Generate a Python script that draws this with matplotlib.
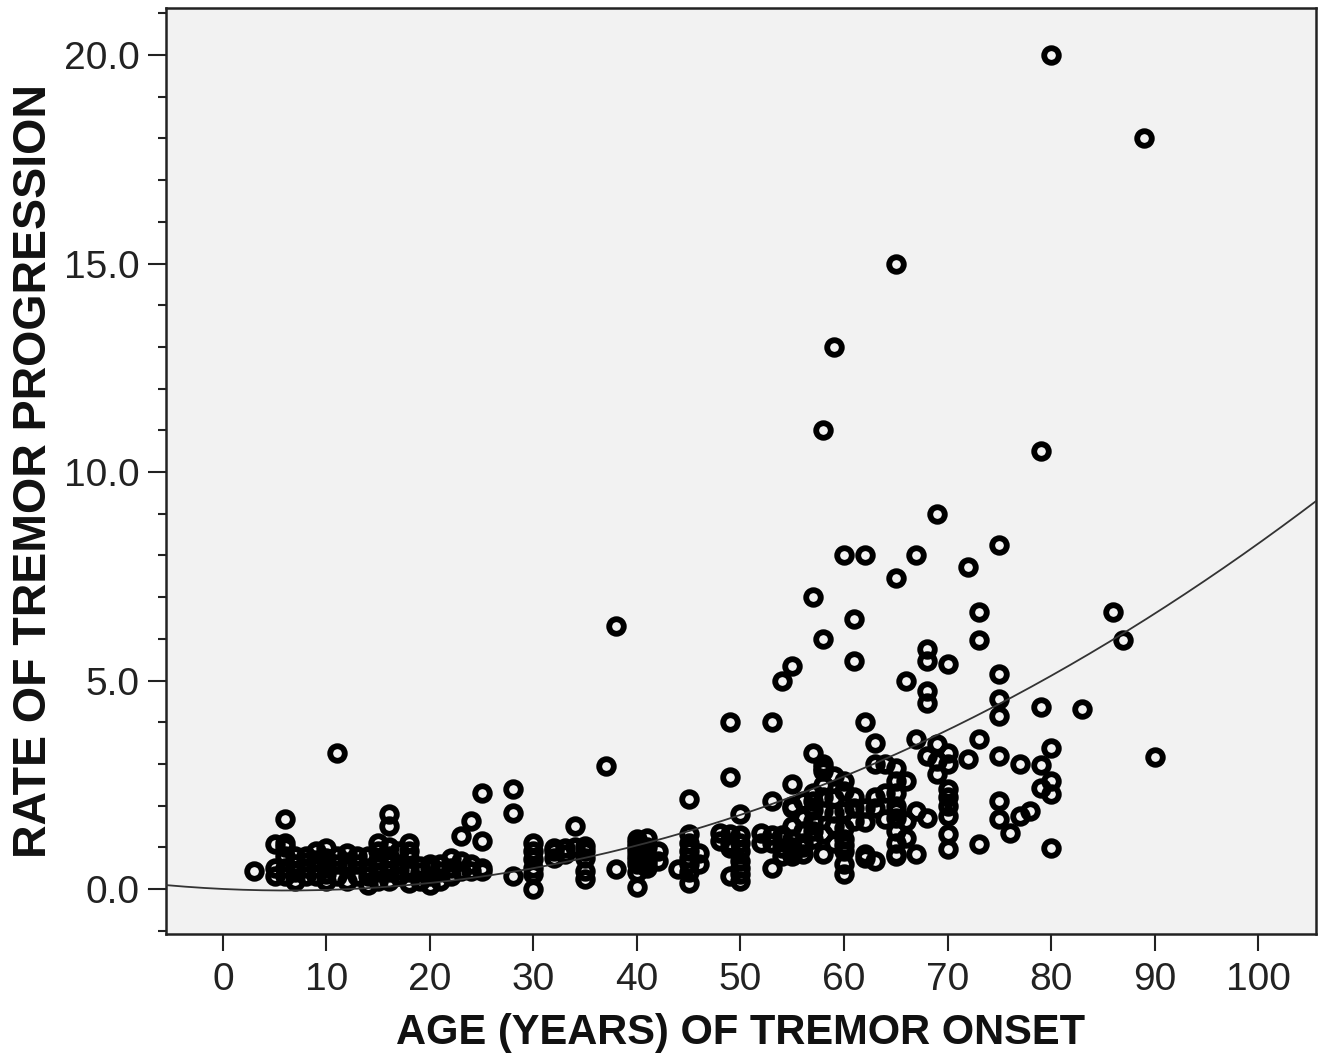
import matplotlib
matplotlib.use("Agg")
import matplotlib.pyplot as plt
import numpy as np
from matplotlib.ticker import MultipleLocator

# ---- data ----
age_groups = [3, 5, 6, 7, 8, 9, 10, 11, 12, 13, 14, 15, 16, 17, 18, 19, 20, 21, 22, 23,
              24, 25, 28, 30, 32, 33, 34, 35, 37, 38, 40, 41, 42, 44, 45, 46, 48, 49, 50,
              52, 53, 54, 55, 56, 57, 58, 59, 60, 61, 62, 63, 64, 65, 66, 67, 68, 69, 70,
              72, 73, 75, 76, 77, 78, 79, 80, 83, 86, 87, 89, 90]
rate_groups = [
    [0.43],
    [0.3, 0.5, 1.08],
    [1.68, 1.1, 0.5, 0.3, 0.8, 1.0],
    [0.4, 0.2, 0.6, 0.8],
    [0.5, 0.3, 0.8, 0.65],
    [0.7, 0.3, 0.9, 0.5],
    [0.98, 0.5, 0.2, 0.35, 0.75, 0.6],
    [3.27, 0.6, 0.3, 0.8],
    [0.86, 0.5, 0.2, 0.65],
    [0.6, 0.3, 0.8],
    [0.5, 0.1, 0.8, 0.3],
    [1.1, 0.7, 0.4, 0.2, 0.9, 0.55],
    [1.8, 1.5, 0.8, 0.4, 0.2, 0.6, 1.0],
    [0.6, 0.3, 0.9, 0.45],
    [1.1, 0.74, 0.4, 0.15, 0.5, 0.9],
    [0.4, 0.2, 0.55],
    [0.5, 0.1, 0.3, 0.6],
    [0.43, 0.2, 0.6],
    [0.74, 0.5, 0.3],
    [1.27, 0.67, 0.43],
    [1.63, 0.43, 0.6],
    [2.3, 1.15, 0.43, 0.5],
    [2.4, 1.82, 0.31],
    [1.1, 0.72, 0.36, 0.0, 0.5, 0.9],
    [0.99, 0.74, 0.9],
    [0.99, 0.85],
    [1.51, 1.0],
    [1.03, 0.74, 0.43, 0.24, 0.9],
    [2.95],
    [6.3, 0.48],
    [1.2, 1.0, 0.8, 0.6, 0.4, 0.05, 1.1, 0.9, 0.7],
    [1.22, 1.0, 0.7, 0.5, 0.8, 0.6],
    [0.67, 0.9],
    [0.48],
    [2.16, 1.32, 1.1, 0.9, 0.6, 0.4, 0.15, 0.75],
    [0.87, 0.6],
    [1.34, 1.15],
    [4.0, 2.69, 1.32, 0.99, 0.31, 1.1],
    [1.8, 1.1, 0.67, 0.36, 0.19, 0.9, 1.3, 0.5],
    [1.34, 1.1],
    [4.0, 2.1, 0.5, 1.1, 1.3],
    [5.0, 1.22, 0.99, 1.3, 0.8],
    [5.35, 2.52, 1.94, 1.0, 0.8, 1.5, 1.2, 2.0, 0.9],
    [2.11, 0.84, 1.1, 1.4, 1.7, 1.0],
    [7.0, 3.27, 2.11, 1.63, 2.3, 1.9, 1.2, 1.4],
    [11.0, 6.0, 3.0, 2.83, 1.87, 1.32, 0.84, 2.5, 2.2, 2.9],
    [13.0, 2.18, 1.82, 2.7, 1.5, 1.1],
    [8.0, 2.35, 1.87, 1.46, 1.2, 0.9, 0.6, 0.36, 2.6, 1.05],
    [6.48, 5.47, 1.94, 1.63, 2.2],
    [8.0, 4.0, 0.74, 1.94, 1.6, 0.84],
    [3.5, 3.0, 1.94, 0.67, 2.2],
    [3.0, 1.68, 2.3],
    [15.0, 7.47, 2.9, 2.6, 2.3, 2.0, 1.7, 1.4, 1.1, 0.8, 1.87, 0.84],
    [5.0, 2.6, 1.63, 1.22],
    [8.0, 3.6, 1.87, 0.84],
    [5.76, 5.47, 4.75, 4.47, 3.2, 1.7],
    [9.0, 3.48, 3.07, 2.76],
    [5.4, 3.27, 3.0, 2.4, 2.2, 2.0, 1.75, 1.32, 0.96],
    [7.73, 3.12],
    [6.65, 5.98, 3.6, 1.08],
    [8.24, 5.16, 4.55, 4.15, 3.19, 2.11, 1.68],
    [1.35],
    [3.0, 1.75],
    [1.87],
    [10.5, 4.37, 2.98, 2.43],
    [20.0, 3.39, 2.59, 2.28, 0.98],
    [4.32],
    [6.65],
    [5.98],
    [18.0],
    [3.17],
]
# quadratic fit line coefficients (c0, c1, c2)
fit_coef = [0.0, -0.0117, 0.000945]

x_ticks = list(range(0, 101, 10))
y_ticks = [0.0, 5.0, 10.0, 15.0, 20.0]
x_label = "AGE (YEARS) OF TREMOR ONSET"
y_label = "RATE OF TREMOR PROGRESSION"

ages = np.concatenate([[a] * len(r) for a, r in zip(age_groups, rate_groups)])
rates = np.concatenate([r for r in rate_groups])

plt.rcParams['font.family'] = ['Liberation Sans', 'DejaVu Sans']

fig = plt.figure(figsize=(13.25, 10.63), dpi=100)
ax = fig.add_axes([166 / 1325, 1 - 934 / 1063, (1316 - 166) / 1325, (934 - 8) / 1063])
ax.set_facecolor('#f2f2f2')

xlim = (-5.5, 105.6)
ax.set_xlim(*xlim)
ax.set_ylim(-1.08, 21.13)

xs = np.linspace(xlim[0], xlim[1], 300)
ys = fit_coef[0] + fit_coef[1] * xs + fit_coef[2] * xs ** 2
ax.plot(xs, ys, color='#333333', lw=1.3, zorder=3)

ax.plot(ages, rates, linestyle='none', marker='o', markersize=10.5,
        markerfacecolor='none', markeredgecolor='black', markeredgewidth=4.2, zorder=2)

ax.set_xticks(x_ticks)
ax.set_xticklabels([str(t) for t in x_ticks])
ax.set_yticks(y_ticks)
ax.set_yticklabels([f"{t:.1f}" for t in y_ticks])
ax.yaxis.set_minor_locator(MultipleLocator(1.0))

ax.tick_params(axis='x', which='major', direction='out', length=12, width=1.5,
               labelsize=28, pad=8, colors='#222222')
ax.tick_params(axis='y', which='major', direction='out', length=13, width=1.5,
               labelsize=28, pad=6, colors='#222222')
ax.tick_params(axis='y', which='minor', direction='out', length=6, width=1.5, colors='#222222')

for s in ax.spines.values():
    s.set_color('#222222')
    s.set_linewidth(1.8)

ax.set_xlabel(x_label, fontsize=30, fontweight='bold', labelpad=11, color='#111111')
ax.set_ylabel(y_label, fontsize=33.5, fontweight='bold', labelpad=6, color='#111111')

fig.savefig("out.png", dpi=100, facecolor='white')
